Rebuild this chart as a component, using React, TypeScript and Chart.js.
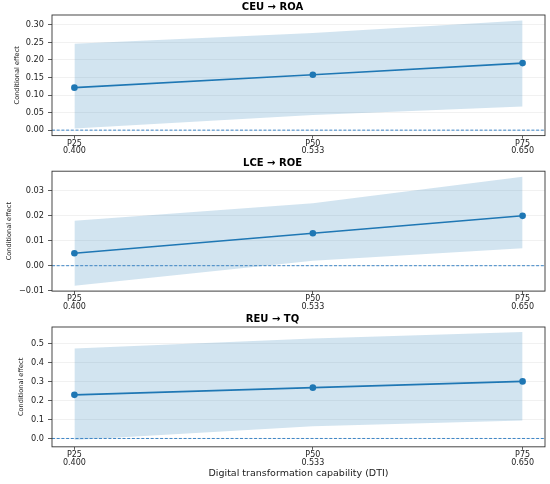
import { useRef, useEffect } from "react";
import { Chart, registerables } from "chart.js";

Chart.register(...registerables);

document.body.style.margin = "0";

const FONT = "'DejaVu Sans', sans-serif";
const BLUE = "#1f77b4";
const BAND = "rgba(31,119,180,0.2)";
const ZERO_LINE = "#3d85c6";

// moderator percentiles (DTI)
const PCT_LABELS = ["P25", "P50", "P75"];
const DTI_VALUES = [0.4, 0.533, 0.65];

const CEU_ROA_EFFECT = [0.121, 0.158, 0.191];
const CEU_ROA_LOWER = [0.005, 0.043, 0.067];
const CEU_ROA_UPPER = [0.246, 0.277, 0.312];
const CEU_ROA_TICKS = [0, 0.05, 0.1, 0.15, 0.2, 0.25, 0.3];

const LCE_ROE_EFFECT = [0.005, 0.013, 0.02];
const LCE_ROE_LOWER = [-0.008, 0.002, 0.007];
const LCE_ROE_UPPER = [0.018, 0.025, 0.0357];
const LCE_ROE_TICKS = [-0.01, 0, 0.01, 0.02, 0.03];

const REU_TQ_EFFECT = [0.23, 0.268, 0.301];
const REU_TQ_LOWER = [-0.008, 0.064, 0.095];
const REU_TQ_UPPER = [0.474, 0.528, 0.561];
const REU_TQ_TICKS = [0, 0.1, 0.2, 0.3, 0.4, 0.5];

const X_MIN = 0.3875;
const X_MAX = 0.6625;

// zero reference line + axes frame
const framePlugin = {
    id: "frame",
    afterDatasetsDraw(chart: Chart) {
        const { ctx, chartArea: a } = chart;
        const y0 = chart.scales.y.getPixelForValue(0);
        ctx.save();
        ctx.strokeStyle = ZERO_LINE;
        ctx.lineWidth = 1;
        ctx.setLineDash([3, 1.7]);
        ctx.beginPath();
        ctx.moveTo(a.left, y0);
        ctx.lineTo(a.right, y0);
        ctx.stroke();
        ctx.setLineDash([]);
        ctx.strokeStyle = "#333";
        ctx.lineWidth = 0.9;
        ctx.strokeRect(a.left, a.top, a.right - a.left, a.bottom - a.top);
        ctx.restore();
    }
};

interface PanelProps {
    title: string;
    effect: number[];
    lower: number[];
    upper: number[];
    yTicks: number[];
    yMin: number;
    yMax: number;
    decimals: number;
    height: number;
    titlePad: { top: number; bottom: number };
    yTitlePad: number;
    bottomPad: number;
    xTitle?: string;
}

const pts = (ys: number[]) => ys.map((y, i) => ({ x: DTI_VALUES[i], y }));

function Panel(p: PanelProps) {
    const canvasRef = useRef<HTMLCanvasElement>(null);

    useEffect(() => {
        const canvas = canvasRef.current;
        if (!canvas) return;

        const chart = new Chart(canvas, {
            type: "line",
            data: {
                datasets: [
                    {
                        data: pts(p.upper),
                        borderColor: "transparent",
                        borderWidth: 0,
                        backgroundColor: BAND,
                        pointRadius: 0,
                        fill: "+1"
                    },
                    {
                        data: pts(p.lower),
                        borderColor: "transparent",
                        borderWidth: 0,
                        pointRadius: 0,
                        fill: false
                    },
                    {
                        data: pts(p.effect),
                        borderColor: BLUE,
                        backgroundColor: BLUE,
                        borderWidth: 1.6,
                        pointRadius: 3.3,
                        pointBorderWidth: 0,
                        fill: false
                    }
                ]
            },
            options: {
                responsive: true,
                maintainAspectRatio: false,
                animation: false,
                layout: { padding: { left: 0, right: 5, top: 0, bottom: p.bottomPad } },
                scales: {
                    x: {
                        type: "linear",
                        min: X_MIN,
                        max: X_MAX,
                        afterBuildTicks: (scale: any) => {
                            scale.ticks = DTI_VALUES.map(v => ({ value: v }));
                        },
                        border: { display: false },
                        grid: { drawOnChartArea: false, drawTicks: true, tickLength: 3, tickColor: "#333", tickWidth: 0.8 },
                        ticks: {
                            color: "#222",
                            padding: 1.5,
                            maxRotation: 0,
                            autoSkip: false,
                            font: { family: FONT, size: 8, lineHeight: 0.93 },
                            callback: (_v: any, i: number) => [PCT_LABELS[i], DTI_VALUES[i].toFixed(3)]
                        },
                        title: {
                            display: !!p.xTitle,
                            text: p.xTitle ?? "",
                            color: "#222",
                            font: { family: FONT, size: 9.5, lineHeight: 1.2 },
                            padding: { top: 0, bottom: 3.4 }
                        }
                    },
                    y: {
                        type: "linear",
                        min: p.yMin,
                        max: p.yMax,
                        afterBuildTicks: (scale: any) => {
                            scale.ticks = p.yTicks.map(v => ({ value: v }));
                        },
                        afterFit: (scale: any) => {
                            scale.width = 52;
                        },
                        border: { display: false },
                        grid: { color: "rgba(0,0,0,0.07)", lineWidth: 0.8, tickLength: 4, tickColor: "#333", tickWidth: 0.8 },
                        ticks: {
                            color: "#222",
                            padding: 4,
                            font: { family: FONT, size: 8.2 },
                            callback: (v: any) => Number(v).toFixed(p.decimals).replace("-", "\u2212")
                        },
                        title: {
                            display: true,
                            text: "Conditional effect",
                            color: "#222",
                            font: { family: FONT, size: 6.6 },
                            padding: { top: p.yTitlePad, bottom: 0 }
                        }
                    }
                },
                plugins: {
                    legend: { display: false },
                    tooltip: { enabled: false },
                    title: {
                        display: true,
                        text: p.title,
                        color: "#000",
                        font: { family: FONT, size: 10, weight: "bold", lineHeight: 1.2 },
                        padding: p.titlePad
                    }
                }
            },
            plugins: [framePlugin]
        });

        return () => {
            chart.destroy();
        };
        // eslint-disable-next-line react-hooks/exhaustive-deps
    }, []);

    return (
        <div style={{ position: "relative", width: 550, height: p.height }}>
            <canvas ref={canvasRef} />
        </div>
    );
}

export default function App() {
    return (
        <div style={{ width: 550, height: 484, background: "#fff" }}>
            <Panel
                title="CEU → ROA"
                effect={CEU_ROA_EFFECT}
                lower={CEU_ROA_LOWER}
                upper={CEU_ROA_UPPER}
                yTicks={CEU_ROA_TICKS}
                yMin={-0.0156}
                yMax={0.328}
                decimals={2}
                height={157}
                titlePad={{ top: 1, bottom: 2 }}
                yTitlePad={13}
                bottomPad={0.5}
            />
            <Panel
                title="LCE → ROE"
                effect={LCE_ROE_EFFECT}
                lower={LCE_ROE_LOWER}
                upper={LCE_ROE_UPPER}
                yTicks={LCE_ROE_TICKS}
                yMin={-0.0102}
                yMax={0.0379}
                decimals={2}
                height={156}
                titlePad={{ top: 0.5, bottom: 1.7 }}
                yTitlePad={5}
                bottomPad={1}
            />
            <Panel
                title="REU → TQ"
                effect={REU_TQ_EFFECT}
                lower={REU_TQ_LOWER}
                upper={REU_TQ_UPPER}
                yTicks={REU_TQ_TICKS}
                yMin={-0.044}
                yMax={0.588}
                decimals={1}
                height={171}
                titlePad={{ top: 0.5, bottom: 1.5 }}
                yTitlePad={17}
                bottomPad={1.5}
                xTitle="Digital transformation capability (DTI)"
            />
        </div>
    );
}
